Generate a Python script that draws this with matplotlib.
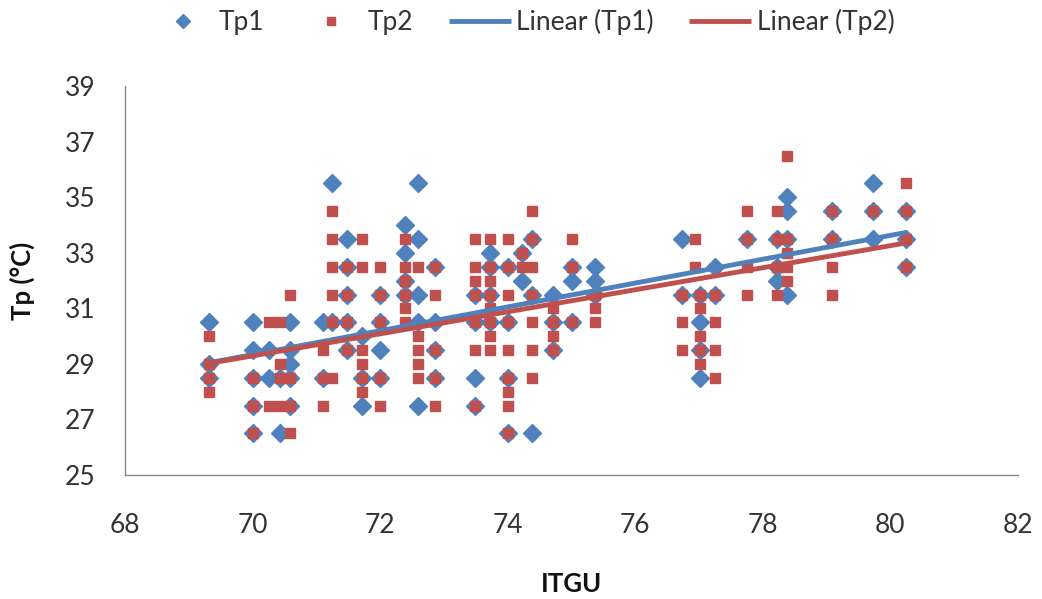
import matplotlib
matplotlib.use("Agg")
import matplotlib.pyplot as plt
import numpy as np

plt.rcParams['font.family'] = ['Lato', 'DejaVu Sans']

# ---- data ----
tp1_x = [69.32]*3 + [70.0]*5 + [70.25]*2 + [70.43]*2 + [70.59]*5 + [71.1]*2 + [71.24]*2 \
    + [71.48]*5 + [71.71]*3 + [72.0]*4 + [72.39]*4 + [72.59]*5 + [72.86]*4 + [73.49]*4 \
    + [73.72]*4 + [74.0]*4 + [74.22]*2 + [74.38]*3 + [74.71]*3 + [75.0]*3 + [75.37]*3 \
    + [76.73]*2 + [77.01]*4 + [77.25]*2 + [77.75]*1 + [78.22]*3 + [78.38]*4 + [79.08]*2 \
    + [79.72]*3 + [80.25]*3
tp1_y = [30.5, 29.0, 28.5,
         30.5, 29.5, 28.5, 27.5, 26.5,
         29.5, 28.5,
         26.5, 28.5,
         30.5, 29.0, 29.5, 28.5, 27.5,
         30.5, 28.5,
         35.5, 30.5,
         33.5, 32.5, 31.5, 30.5, 29.5,
         30.0, 28.5, 27.5,
         30.5, 29.5, 28.5, 31.5,
         34.0, 33.0, 32.0, 31.5,
         35.5, 33.5, 31.5, 30.5, 27.5,
         32.5, 30.5, 29.5, 28.5,
         31.5, 28.5, 27.5, 30.5,
         33.0, 32.5, 31.5, 30.5,
         32.5, 30.5, 28.5, 26.5,
         33.0, 32.0,
         31.5, 26.5, 33.5,
         31.5, 30.5, 29.5,
         32.5, 32.0, 30.5,
         32.5, 32.0, 31.5,
         33.5, 31.5,
         30.5, 29.5, 28.5, 31.5,
         32.5, 31.5,
         33.5,
         33.5, 32.5, 32.0,
         35.0, 34.5, 33.5, 31.5,
         34.5, 33.5,
         35.5, 34.5, 33.5,
         34.5, 33.5, 32.5]

tp2_x = [69.32]*4 + [70.0]*3 + [70.25]*2 + [70.43]*4 + [70.59]*4 + [71.1]*3 + [71.24]*6 \
    + [71.48]*4 + [71.71]*6 + [72.0]*5 + [72.39]*6 + [72.59]*5 + [72.86]*5 + [73.49]*7 \
    + [73.72]*8 + [74.0]*9 + [74.22]*2 + [74.38]*7 + [74.71]*4 + [75.0]*3 + [75.37]*3 \
    + [76.73]*3 + [76.93]*2 + [77.01]*5 + [77.25]*4 + [77.75]*4 + [78.22]*4 + [78.38]*5 \
    + [79.08]*4 + [79.72]*1 + [80.25]*4
tp2_y = [30.0, 29.0, 28.5, 28.0,
         28.5, 27.5, 26.5,
         30.5, 27.5,
         30.5, 29.0, 28.5, 27.5,
         31.5, 28.5, 27.5, 26.5,
         29.5, 28.5, 27.5,
         34.5, 33.5, 32.5, 31.5, 30.5, 28.5,
         32.5, 31.5, 30.5, 29.5,
         33.5, 32.5, 29.5, 29.0, 28.5, 28.0,
         32.5, 31.5, 30.5, 28.5, 27.5,
         33.5, 32.5, 32.0, 31.5, 31.0, 30.5,
         32.5, 30.0, 29.5, 29.0, 28.5,
         32.5, 31.5, 29.5, 28.5, 27.5,
         33.5, 32.5, 32.0, 31.5, 30.5, 29.5, 27.5,
         33.5, 32.5, 32.0, 31.5, 31.0, 30.5, 30.0, 29.5,
         33.5, 32.5, 31.5, 30.5, 29.5, 28.5, 28.0, 27.5, 26.5,
         33.0, 32.5,
         34.5, 33.5, 32.5, 31.5, 30.5, 29.5, 28.5,
         31.0, 30.5, 30.0, 29.5,
         33.5, 32.5, 30.5,
         31.5, 31.0, 30.5,
         31.5, 30.5, 29.5,
         33.5, 32.5,
         31.5, 31.0, 30.0, 29.5, 29.0,
         31.5, 30.5, 29.5, 28.5,
         34.5, 33.5, 32.5, 31.5,
         34.5, 33.5, 32.5, 31.5,
         36.5, 33.5, 33.0, 32.5, 32.0,
         34.5, 33.5, 32.5, 31.5,
         34.5,
         35.5, 34.5, 33.5, 32.5]

x_ticks = [68, 70, 72, 74, 76, 78, 80, 82]
y_ticks = [25, 27, 29, 31, 33, 35, 37, 39]

blue = '#4F81BD'
red = '#C0504D'
text_col = '#333333'

fig = plt.figure(figsize=(10.42, 5.99), dpi=100)
ax = fig.add_axes([0.120, 0.207, 0.857, 0.649])

ax.plot(tp1_x, tp1_y, linestyle='none', marker='D', markersize=9, color=blue,
        markeredgecolor=blue, label='Tp1')
ax.plot(tp2_x, tp2_y, linestyle='none', marker='s', markersize=7, color=red,
        markeredgecolor=red, label='Tp2')

for xs, ys, c, lab in [(tp1_x, tp1_y, blue, 'Linear (Tp1)'), (tp2_x, tp2_y, red, 'Linear (Tp2)')]:
    k, b = np.polyfit(xs, ys, 1)
    xx = np.array([min(xs), max(xs)])
    ax.plot(xx, k*xx + b, color=c, linewidth=3.5, label=lab, solid_capstyle='butt')

ax.set_xlim(68, 82)
ax.set_ylim(25, 39)
ax.set_xticks(x_ticks)
ax.set_yticks(y_ticks)
ax.tick_params(length=0, labelsize=19, colors=text_col)
ax.tick_params(axis='x', pad=27)
ax.tick_params(axis='y', pad=21)
for s in ['top', 'right']:
    ax.spines[s].set_visible(False)
for s in ['left', 'bottom']:
    ax.spines[s].set_color('#868686')
    ax.spines[s].set_linewidth(1.0)

ax.set_xlabel('ITGU', fontsize=18.5, fontweight='bold', labelpad=25, color='#111111')
ax.set_ylabel('Tp (°C)', fontsize=18.5, fontweight='bold', labelpad=22, color='#111111')

leg = fig.legend(loc='center', bbox_to_anchor=(0.502, 0.963), ncol=4, frameon=False,
                 fontsize=19, handlelength=2.35, columnspacing=1.35, handletextpad=0.2,
                 markerscale=0.8)
for t in leg.get_texts():
    t.set_color(text_col)

fig.savefig('out.png', dpi=100)
